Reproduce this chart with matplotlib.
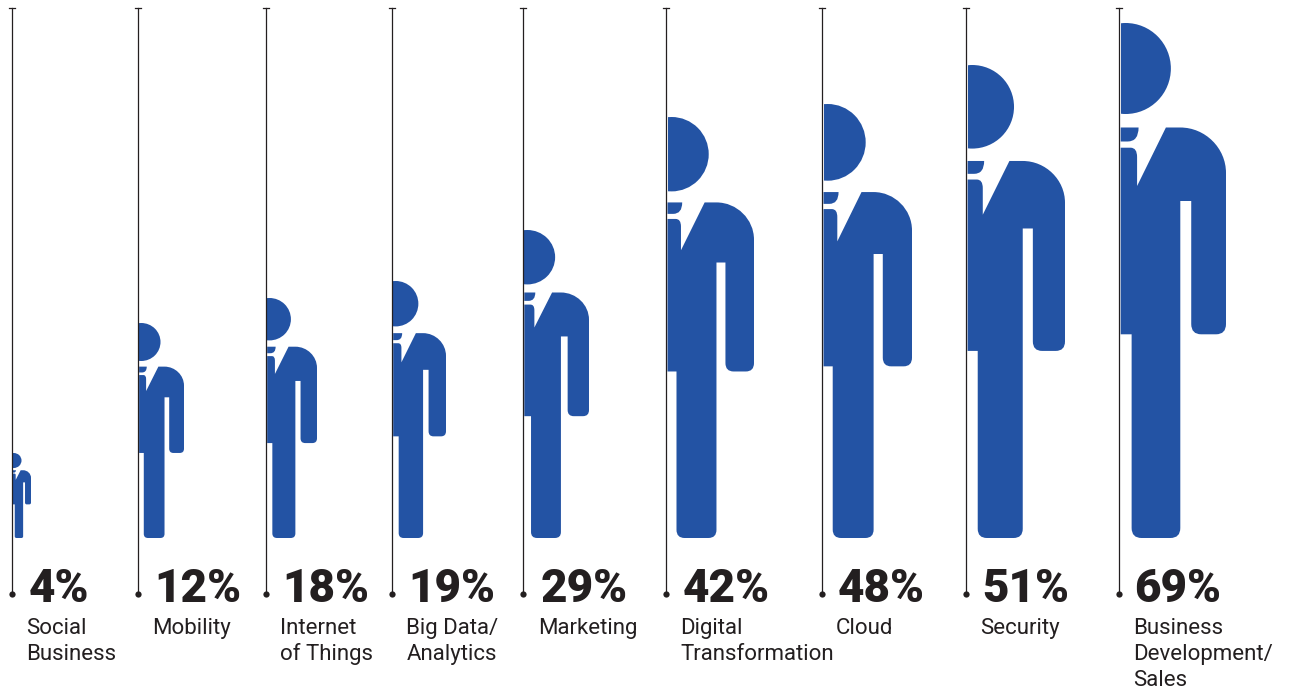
import numpy as np
import matplotlib
matplotlib.use('Agg')
import matplotlib.pyplot as plt
from matplotlib.path import Path
from matplotlib.patches import PathPatch, Ellipse, Rectangle

# data
categories = ['Social\nBusiness', 'Mobility', 'Internet\nof Things', 'Big Data/\nAnalytics',
              'Marketing', 'Digital\nTransformation', 'Cloud', 'Security',
              'Business\nDevelopment/\nSales']
percents = [4, 12, 18, 19, 29, 42, 48, 51, 69]
figure_heights = [85, 215, 240, 257, 308, 421, 434, 473, 515]
figure_widths = [19, 46, 51, 54, 66, 88, 90, 99, 107]

# layout, in pixels
stem_x = [12, 138, 266, 392, 523, 666, 822, 966, 1119]
pct_x = [29, 154, 282, 408, 541, 683, 838, 982, 1134]
label_x = [26.5, 152.5, 280.5, 406.5, 538.5, 680.5, 835.5, 980.5, 1133.5]
feet_y = 538
stem_top = 8
stem_bottom = 594

BLUE = '#2353a4'
DARK = '#231f20'

M, L, Q, B = Path.MOVETO, Path.LINETO, Path.CURVE3, Path.CURVE4

# outline of the tallest figure, measured from its stem and top (107 x 515)
body_pts = [
    (1, 124.7, M),
    (11, 124.7, L), (17.5, 124.7, Q), (17.5, 134, Q),
    (17.5, 163, L),
    (46.5, 104.5, L),
    (61, 104.5, L), (86, 104.5, B), (107, 125, B), (107, 150, B),
    (107, 301, L), (107, 311.3, Q), (97, 311.3, Q),
    (82, 311.3, L), (72, 311.3, Q), (72, 301, Q),
    (72, 178, L),
    (61, 178, L),
    (61, 505, L), (61, 515, Q), (51, 515, Q),
    (22, 515, L), (12, 515, Q), (12, 505, Q),
    (12, 311.3, L),
    (1, 311.3, L),
    (1, 124.7, L),
]
collar_pts = [
    (1, 104.5, M), (19, 104.5, L),
    (19, 118.5, Q), (8, 118.5, Q),
    (1, 118.5, L), (1, 104.5, L),
]


def draw_person(ax, x0, w, h):
    y0 = feet_y - h
    sx = w / 107
    sy = h / 515
    for pts in (body_pts, collar_pts):
        verts = [(x0 + p[0] * sx, y0 + p[1] * sy) for p in pts]
        ax.add_patch(PathPatch(Path(verts, [p[2] for p in pts]), fc=BLUE, ec='none', lw=0))
    # head is a circle cut off by the stem
    head = Ellipse((x0 + 6 * sx, y0 + 45.5 * sy), 91 * sx, 91 * sy, fc=BLUE, ec='none')
    ax.add_patch(head)
    head.set_clip_path(Rectangle((x0 + sx, y0 - 1), w, h, transform=ax.transData))


fig = plt.figure(figsize=(12.89, 6.86), dpi=100)
ax = fig.add_axes([0, 0, 1, 1])
ax.set_xlim(0, 1289)
ax.set_ylim(686, 0)
ax.axis('off')

for i in range(len(percents)):
    x = stem_x[i]
    ax.plot([x, x], [stem_top, stem_bottom], color=DARK, lw=0.9, zorder=3)
    ax.plot([x - 3, x + 3], [stem_top, stem_top], color=DARK, lw=0.9, zorder=3)
    ax.plot([x], [stem_bottom], 'o', color=DARK, ms=4.5, mew=0, zorder=3)
    draw_person(ax, stem_x[i] + 0.7, figure_widths[i] - 0.7, figure_heights[i])

    ax.text(pct_x[i], 602, str(percents[i]) + '%', family='Roboto', weight='black',
            fontsize=33, color=DARK, va='baseline', ha='left')
    for n, line in enumerate(categories[i].split('\n')):
        ax.text(label_x[i], 634 + 25.8 * n, line, family='Roboto', fontsize=16,
                color=DARK, va='baseline', ha='left')

fig.savefig('out.png', dpi=100)
